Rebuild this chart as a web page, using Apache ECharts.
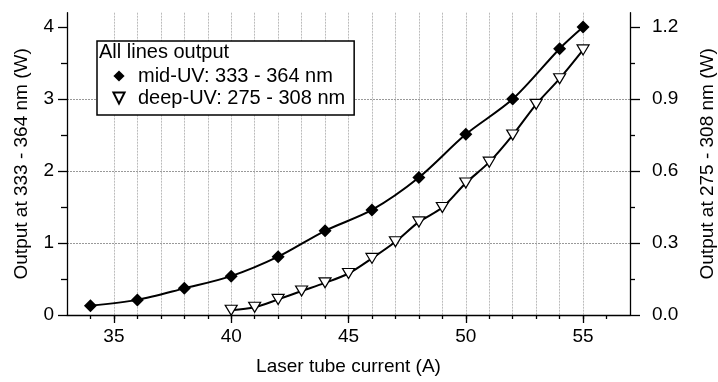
<!DOCTYPE html>
<html>
<head>
<meta charset="utf-8">
<script src="https://cdn.jsdelivr.net/npm/echarts@6/dist/echarts.min.js"></script>
<style>
  html, body { margin: 0; padding: 0; background: #fff; }
  #main { width: 718px; height: 382px; }
</style>
</head>
<body>
<div id="main"></div>
<script>
var FONT = 'Liberation Sans';

// mid-UV (left axis, W)
var currentMid = [34, 36, 38, 40, 42, 44, 46, 48, 50, 52, 54, 55];
var powerMid = [0.13, 0.21, 0.37, 0.54, 0.81, 1.17, 1.46, 1.91, 2.51, 3.00, 3.70, 4.00];

// deep-UV (right axis, W)
var currentDeep = [40, 41, 42, 43, 44, 45, 46, 47, 48, 49, 50, 51, 52, 53, 54, 55];
var powerDeep = [0.02, 0.032, 0.065, 0.10, 0.134, 0.173, 0.236, 0.305, 0.388, 0.448, 0.55, 0.637, 0.75, 0.878, 0.985, 1.105];

var xMajor = [35, 40, 45, 50, 55];
var xMinor = [34, 35, 36, 37, 38, 39, 40, 41, 42, 43, 44, 45, 46, 47, 48, 49, 50, 51, 52, 53, 54, 55, 56];
var yLeftMajor = [0, 1, 2, 3, 4];
var yLeftMinor = [0.5, 1.5, 2.5, 3.5];
var yRightMajor = [0, 0.3, 0.6, 0.9, 1.2];
var yRightMinor = [0.15, 0.45, 0.75, 1.05];

var nameMid = 'mid-UV: 333 - 364 nm';
var nameDeep = 'deep-UV: 275 - 308 nm';

function pairs(xs, ys) {
    var out = [];
    for (var i = 0; i < xs.length; i++) {
        out.push([xs[i], ys[i]]);
    }
    return out;
}

var chart = echarts.init(document.getElementById('main'));

var gridLine = { color: '#999', width: 1, type: [2, 1] };
var axisBlack = { color: '#000', width: 1.3 };

option = {
    animation: false,
    backgroundColor: '#fff',
    textStyle: { fontFamily: FONT, color: '#000' },
    title: {
        text: 'All lines output',
        left: 99,
        top: 42,
        padding: 0,
        z: 10,
        textStyle: { fontFamily: FONT, fontSize: 20, fontWeight: 'normal', color: '#000' }
    },
    legend: {
        data: [nameMid, nameDeep],
        orient: 'vertical',
        left: 97,
        top: 41,
        padding: [25, 9, 7, 7],
        itemWidth: 28,
        itemHeight: 14,
        itemGap: 2,
        borderColor: '#000',
        borderWidth: 1.5,
        backgroundColor: '#fff',
        lineStyle: { opacity: 0 },
        textStyle: { fontFamily: FONT, fontSize: 20, color: '#000' }
    },
    grid: {
        left: 67,
        right: 88,
        top: 12.7,
        bottom: 67,
        outerBoundsMode: 'none'
    },
    xAxis: [
        {
            type: 'value',
            min: 33,
            max: 57,
            interval: 1,
            name: 'Laser tube current (A)',
            nameLocation: 'middle',
            nameGap: 42,
            nameTextStyle: { fontFamily: FONT, fontSize: 19, color: '#000' },
            axisLine: { show: true, onZero: false, lineStyle: axisBlack },
            axisTick: { show: true, length: 4, customValues: xMinor, lineStyle: axisBlack },
            axisLabel: {
                customValues: xMajor,
                margin: 12,
                fontFamily: FONT, fontSize: 19, color: '#000'
            },
            splitLine: { show: true, showMinLine: false, showMaxLine: false, lineStyle: { color: '#bbb', width: 1, type: [2, 1] } }
        },
        {
            type: 'value',
            position: 'bottom',
            min: 33,
            max: 57,
            axisLine: { show: false },
            axisTick: { show: true, length: 8, customValues: xMajor, lineStyle: axisBlack },
            axisLabel: { show: false },
            splitLine: { show: false }
        }
    ],
    yAxis: [
        {
            type: 'value',
            position: 'left',
            min: 0,
            max: 4.2,
            interval: 0.5,
            name: 'Output at 333 - 364 nm (W)',
            nameLocation: 'middle',
            nameGap: 36,
            nameTextStyle: { fontFamily: FONT, fontSize: 19, color: '#000' },
            axisLine: { show: true, onZero: false, lineStyle: axisBlack },
            axisTick: { show: true, length: 9, customValues: yLeftMajor, lineStyle: axisBlack },
            axisLabel: {
                customValues: yLeftMajor,
                margin: 13,
                fontFamily: FONT, fontSize: 19, color: '#000'
            },
            splitLine: { show: true, showMinLine: false, showMaxLine: false, lineStyle: gridLine }
        },
        {
            type: 'value',
            position: 'left',
            min: 0,
            max: 4.2,
            axisLine: { show: false },
            axisTick: { show: true, length: 6, customValues: yLeftMinor, lineStyle: axisBlack },
            axisLabel: { show: false },
            splitLine: { show: false }
        },
        {
            type: 'value',
            position: 'right',
            min: 0,
            max: 1.26,
            name: 'Output at 275 - 308 nm (W)',
            nameLocation: 'middle',
            nameGap: 68,
            nameTextStyle: { fontFamily: FONT, fontSize: 19, color: '#000' },
            axisLine: { show: true, onZero: false, lineStyle: axisBlack },
            axisTick: { show: true, length: 10, customValues: yRightMajor, lineStyle: axisBlack },
            axisLabel: {
                customValues: yRightMajor,
                margin: 22,
                fontFamily: FONT, fontSize: 19, color: '#000',
                formatter: function (v) { return v.toFixed(1); }
            },
            splitLine: { show: false }
        },
        {
            type: 'value',
            position: 'right',
            min: 0,
            max: 1.26,
            axisLine: { show: false },
            axisTick: { show: true, length: 5, customValues: yRightMinor, lineStyle: axisBlack },
            axisLabel: { show: false },
            splitLine: { show: false }
        }
    ],
    series: [
        {
            name: nameMid,
            type: 'line',
            xAxisIndex: 0,
            yAxisIndex: 0,
            data: pairs(currentMid, powerMid),
            smooth: 0.3,
            symbol: 'diamond',
            symbolSize: 13,
            showAllSymbol: true,
            lineStyle: { color: '#000', width: 2 },
            itemStyle: { color: '#000' },
            z: 3
        },
        {
            name: nameDeep,
            type: 'line',
            xAxisIndex: 0,
            yAxisIndex: 2,
            data: pairs(currentDeep, powerDeep),
            smooth: 0.3,
            symbol: 'triangle',
            symbolRotate: 180,
            symbolSize: [12, 10],
            showAllSymbol: true,
            lineStyle: { color: '#000', width: 2 },
            itemStyle: { color: '#fff', borderColor: '#000', borderWidth: 1.2 },
            z: 3
        }
    ]
};

chart.setOption(option);
</script>
</body>
</html>
